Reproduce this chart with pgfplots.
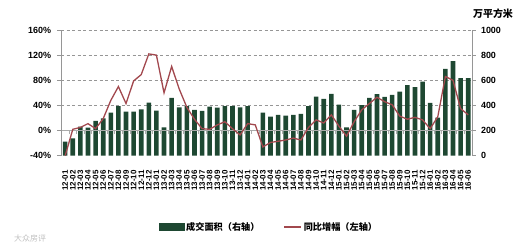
\documentclass[border=0pt]{standalone}
\usepackage{pgfplots}
\pgfplotsset{compat=1.18}
\usepackage{pgfplotstable}
\usepackage{fontspec}
\setmainfont{Liberation Sans}
\newfontfamily\cjk{Noto Sans CJK SC}

\definecolor{bargreen}{RGB}{30,72,50}
\definecolor{linered}{RGB}{162,72,78}
\definecolor{axgray}{RGB}{150,150,150}

% monthly transaction area (10k m^2) and year-on-year change (%)
\pgfplotstableread{
idx area yoy
0 111 -40
1 138 2
2 231 5
3 223 11
4 278 3
5 297 19
6 342 48
7 395 70
8 350 43
9 350 79
10 369 89
11 422 122
12 358 120
13 226 60
14 461 102
15 385 66
16 395 37
17 364 18
18 356 3
19 390 2
20 382 9
21 395 14
22 395 3
23 385 -7
24 395 11
25 nan 9
26 342 -26
27 310 -19
28 324 -17
29 318 -15
30 324 -12
31 332 -15
32 395 5
33 469 17
34 453 12
35 491 25
36 406 7
37 226 -9
38 364 14
39 403 33
40 461 43
41 490 53
42 467 46
43 483 41
44 509 23
45 562 18
46 546 21
47 589 17
48 420 3
49 302 22
50 690 86
51 753 80
52 618 35
53 618 25
}\data

\begin{document}
\begin{tikzpicture}
\path[use as bounding box] (0bp,0bp) rectangle (531bp,248bp);

% right axis: transaction area bars
\begin{axis}[
  at={(61bp,92.3bp)}, anchor=south west,
  scale only axis, width=411bp, height=125.7bp,
  xmin=-0.55, xmax=53.5,
  ymin=0, ymax=1000,
  axis y line*=right,
  axis x line*=bottom,
  x axis line style={draw=none},
  y axis line style={axgray, line width=0.8bp},
  ytick={0,200,...,1000},
  yticklabels={0,200,400,600,800,1000},
  extra y ticks={400,600,800,1000},
  extra y tick labels={},
  extra y tick style={grid=major, major tick length=0pt},
  grid style={axgray, dashed, line width=0.7bp, dash pattern=on 3bp off 2.5bp},
  ytick style={axgray, line width=0.8bp},
  y tick label style={font=\fontsize{9}{10}\selectfont\bfseries, anchor=west, xshift=2bp},
  tick align=outside,
  major tick length=3.5bp,
  xtick={0,...,53},
  x tick style={draw=none},
  xticklabels={12-01,12-02,12-03,12-04,12-05,12-06,12-07,12-08,12-09,12-10,12-11,12-12,
    13-01,13-02,13-03,13-04,13-05,13-06,13-07,13-08,13-09,13-10,13-11,13-12,
    14-01,14-02,14-03,14-04,14-05,14-06,14-07,14-08,14-09,14-10,14-11,14-12,
    15-01,15-02,15-03,15-04,15-05,15-06,15-07,15-08,15-09,15-10,15-11,15-12,
    16-01,16-02,16-03,16-04,16-05,16-06},
  x tick label style={rotate=90, anchor=east, font=\fontsize{8}{8}\selectfont\bfseries, inner sep=0pt},
  xticklabel shift=11bp,
  ybar, bar width=4.6bp,
]
\addplot[fill=bargreen, draw=none] table[x=idx, y=area] {\data};
\end{axis}

% left axis: year-on-year change line
\begin{axis}[
  at={(61bp,92.3bp)}, anchor=south west,
  scale only axis, width=411bp, height=125.7bp,
  xmin=-0.55, xmax=53.5,
  ymin=-40, ymax=160,
  axis y line*=left,
  axis x line=middle,
  axis line style={-},
  x axis line style={axgray!80, line width=1bp},
  y axis line style={axgray, line width=0.8bp},
  ytick={-40,0,...,160},
  yticklabels={-40\%,0\%,40\%,80\%,120\%,160\%},
  y tick label style={font=\fontsize{9}{10}\selectfont\bfseries, anchor=east, xshift=-3bp},
  ytick style={axgray, line width=0.8bp},
  tick align=outside,
  major tick length=3.5bp,
  xtick={-0.5,0.5,...,53.5},
  xticklabels={},
  x tick style={axgray!80, line width=0.6bp},
  x tick label style={draw=none},
  legend style={at={(0.506,-0.567)}, anchor=center, draw=none, fill=none,
    legend columns=2, font=\cjk\fontsize{9.2}{10}\selectfont\bfseries,
    /tikz/every even column/.append style={column sep=22bp}},
]
\addlegendimage{legend image code/.code={\fill[bargreen] (0bp,-3bp) rectangle (25bp,3.5bp);}}
\addlegendentry{成交面积（右轴）}
\addplot[linered, line width=1.3bp] table[x=idx, y=yoy] {\data};
\addlegendentry{同比增幅（左轴）}
\end{axis}

\node[anchor=south, font=\cjk\fontsize{10}{11}\selectfont\bfseries, inner sep=0pt]
  at (493bp,229bp) {万平方米};
\node[anchor=west, font=\cjk\fontsize{8}{9}\selectfont, text=black!25, inner sep=0pt]
  at (14bp,10bp) {大众房评};
\end{tikzpicture}
\end{document}
